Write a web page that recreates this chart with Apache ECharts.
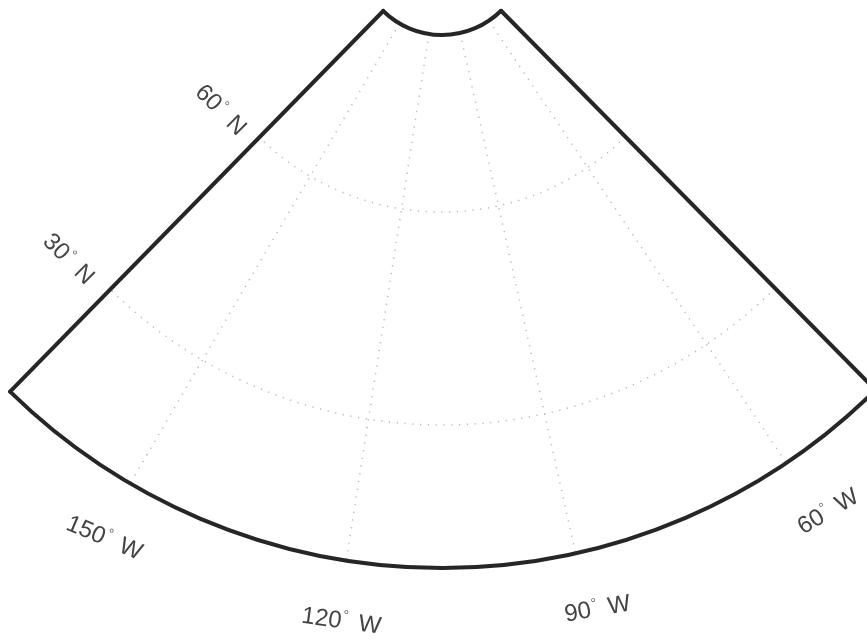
<!DOCTYPE html>
<html>
<head>
<meta charset="utf-8">
<style>html,body{margin:0;padding:0;background:#fff}#c{width:867px;height:640px}</style>
<script src="https://cdn.jsdelivr.net/npm/echarts@6/dist/echarts.min.js"></script>
</head>
<body>
<div id="c"></div>
<script>
// Map extent and graticule values
const lonLimits = [-169.7, -45];
const frameRadii = [84, 617];
const meridians = [-150, -120, -90, -60];
const parallels = [30, 60];
const parallelRadii = [474, 261];
const lonLabels = ['150', '120', '90', '60'];
const latLabels = ['30', '60'];

const chart = echarts.init(document.getElementById('c'), null, {renderer: 'canvas'});

const lonOffsets = [[-26, 55], [-5, 61], [22, 56], [42, 49]];
const lonRot = [-23, -8, 10, 31];
const latOffsets = [[-42, -30], [-39, -27]];

function textEl(pt, off, rot, num, hemi) {
  return {
    type: 'text', x: pt[0] + off[0], y: pt[1] + off[1],
    rotation: rot * Math.PI / 180,
    style: {
      text: num + '{d|°} ' + hemi,
      align: 'center', verticalAlign: 'middle',
      fontFamily: 'Liberation Sans', fontSize: 24, fill: '#444',
      rich: {d: {fontSize: 14, fill: '#666', fontFamily: 'Liberation Sans', verticalAlign: 'top', padding: [0, 4, 12, 1]}}
    }
  };
}

const dotted = {stroke: '#b8b8b8', lineWidth: 1.5, lineDash: [1.2, 6.6], fill: null};
const frameStyle = {stroke: '#262626', lineWidth: 4, fill: null, lineCap: 'round'};

function arcShape(c, a, b) {
  return {
    cx: c.cx, cy: c.cy, r: Math.hypot(a[0] - c.cx, a[1] - c.cy),
    startAngle: Math.atan2(b[1] - c.cy, b[0] - c.cx),
    endAngle: Math.atan2(a[1] - c.cy, a[0] - c.cx), clockwise: true
  };
}

chart.setOption({
  animation: false,
  backgroundColor: '#fff',
  polar: {center: [442, -49], radius: [0, 617]},
  radiusAxis: {type: 'value', min: 0, max: 617, show: false},
  angleAxis: {type: 'value', min: -359.5, max: 144.5, startAngle: 90, clockwise: false, show: false},
  series: [
    {
      name: 'meridians', type: 'custom', coordinateSystem: 'polar', silent: true,
      data: meridians.map(l => [frameRadii[0], l]),
      renderItem: (p, api) => {
        const l = api.value(1);
        const a = api.coord([frameRadii[0], l]), b = api.coord([frameRadii[1], l]);
        return {type: 'line', shape: {x1: a[0], y1: a[1], x2: b[0], y2: b[1]}, style: dotted};
      }
    },
    {
      name: 'parallels', type: 'custom', coordinateSystem: 'polar', silent: true,
      data: parallelRadii.map(r => [r, lonLimits[0]]),
      renderItem: (p, api) => {
        const r = api.value(0);
        return {type: 'arc', shape: arcShape(p.coordSys, api.coord([r, lonLimits[0]]), api.coord([r, lonLimits[1]])), style: dotted};
      }
    },
    {
      name: 'frame', type: 'custom', coordinateSystem: 'polar', silent: true,
      data: [[frameRadii[0], lonLimits[0], frameRadii[1], lonLimits[1]]],
      renderItem: (p, api) => {
        const r0 = api.value(0), l0 = api.value(1), r1 = api.value(2), l1 = api.value(3), c = p.coordSys;
        const A = api.coord([r0, l0]), B = api.coord([r1, l0]), C = api.coord([r1, l1]), D = api.coord([r0, l1]);
        return {type: 'group', children: [
          {type: 'line', shape: {x1: A[0], y1: A[1], x2: B[0], y2: B[1]}, style: frameStyle},
          {type: 'line', shape: {x1: D[0], y1: D[1], x2: C[0], y2: C[1]}, style: frameStyle},
          {type: 'arc', shape: arcShape(c, A, D), style: frameStyle},
          {type: 'arc', shape: arcShape(c, B, C), style: frameStyle}
        ]};
      }
    },
    {
      name: 'lonLabels', type: 'custom', coordinateSystem: 'polar', silent: true,
      data: meridians.map(l => [frameRadii[1], l]),
      renderItem: (p, api) => textEl(api.coord([api.value(0), api.value(1)]), lonOffsets[p.dataIndex], lonRot[p.dataIndex], lonLabels[p.dataIndex], 'W')
    },
    {
      name: 'latLabels', type: 'custom', coordinateSystem: 'polar', silent: true,
      data: parallelRadii.map(r => [r, lonLimits[0]]),
      renderItem: (p, api) => textEl(api.coord([api.value(0), api.value(1)]), latOffsets[p.dataIndex], -45, latLabels[p.dataIndex], 'N')
    }
  ]
});
</script>
</body>
</html>
